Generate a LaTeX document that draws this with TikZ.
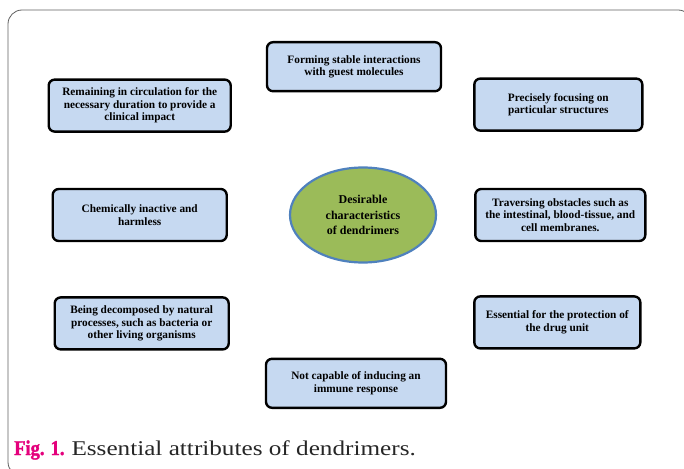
\documentclass[tikz,border=0pt]{standalone}
\usepackage{fontspec}
\setmainfont{Liberation Serif}
\newfontfamily\capwide[FakeStretch=1.2]{Liberation Serif}
\newfontfamily\capnarrow[FakeStretch=0.88, FakeBold=1.6]{Liberation Serif Bold}
\usepackage{xcolor}
\usetikzlibrary{shapes.geometric, positioning}

\definecolor{boxblue}{RGB}{198,217,241}
\definecolor{coregreen}{RGB}{155,187,89}
\definecolor{coreedge}{RGB}{79,129,189}
\definecolor{figmagenta}{RGB}{228,0,124}
\definecolor{framegray}{RGB}{95,95,95}

\begin{document}
\begin{tikzpicture}[
    x=1pt, y=-1pt,
    attribute/.style={rectangle, draw=black, fill=boxblue, line width=2.4pt, rounded corners=6pt, align=center, minimum width=174pt, minimum height=52pt, inner sep=3pt, font=\fontsize{11.3}{12.5}\selectfont\bfseries},
    core/.style={ellipse, draw=coreedge, fill=coregreen, line width=2.2pt, align=center, minimum width=146pt, minimum height=95pt, inner sep=1pt, font=\fontsize{12}{15.5}\selectfont\bfseries},
    caption/.style={anchor=base west, inner sep=0pt, font=\fontsize{21}{24}\selectfont}
]

\useasboundingbox (0,0) rectangle (684,468);
\begin{scope}
  \clip (0,0) rectangle (684,468);
  \draw[framegray, line width=0.8pt, rounded corners=14pt] (8,10) rectangle (692,476);
\end{scope}

\node[core] (center) at (363,215) {Desirable\\characteristics\\of dendrimers};

\node[attribute, left=61pt of center] (inert) {Chemically inactive and\\harmless};
\node[attribute, right=37pt of center, minimum width=170pt] (cross) {Traversing obstacles such as\\the intestinal, blood-tissue, and\\cell membranes.};
\node[attribute, above=55pt of inert, minimum width=182pt] (circulate) {Remaining in circulation for the\\necessary duration to provide a\\clinical impact};
\node[attribute, below=54pt of inert, xshift=2pt] (degrade) {Being decomposed by natural\\processes, such as bacteria or\\other living organisms};
\node[attribute, above=56pt of cross, xshift=-2pt, minimum width=168pt] (target) {Precisely focusing on\\particular structures};
\node[attribute, below=53pt of cross, xshift=-3pt, minimum width=166pt] (protect) {Essential for the protection of\\the drug unit};
\node[attribute, above=74pt of center, xshift=-9pt, minimum height=49pt] (bind) {Forming stable interactions\\with guest molecules};
\node[attribute, below=94pt of center, xshift=-7pt, minimum width=180pt, minimum height=49pt] (immune) {Not capable of inducing an\\immune response};

\node[caption] (fig) at (14,455) {\textcolor{figmagenta}{\capnarrow Fig. 1.} \textcolor{black!85}{\capwide Essential attributes of dendrimers.}};

\end{tikzpicture}
\end{document}
